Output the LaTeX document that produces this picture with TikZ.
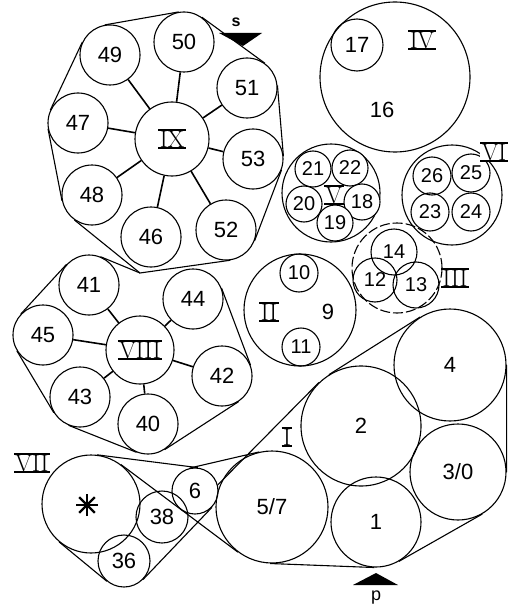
\documentclass[tikz,border=0pt]{standalone}
\usepackage{fontspec}
\newfontfamily\lblfont{Liberation Sans}
\usetikzlibrary{calc}

% roman group numbers with a bar above and below
\newcommand{\romlbl}[1]{{\rmfamily\fontsize{24}{24}\selectfont%
  \setbox0\hbox{\kern1.5pt#1\kern1.5pt}%
  \vbox{\hrule height1.6pt width\wd0\copy0\hrule height1.6pt width\wd0}}}

\begin{document}
\begin{tikzpicture}[x=1pt, y=-1pt, line width=1.1pt,
  bub/.style={circle, draw, inner sep=0pt, minimum size=#1pt, font=\lblfont\fontsize{22}{22}\selectfont},
  sbub/.style={bub=#1, font=\lblfont\fontsize{20}{20}\selectfont},
  lbl/.style={inner sep=0pt, font=\lblfont\fontsize{22}{22}\selectfont},
  rom/.style={inner sep=0pt},
  spoke/.style={line width=1.6pt},
  pointer/.style={fill=black, draw=none}]
\useasboundingbox (0,0) rectangle (507,607);

% Group IX
\node[bub=74] (ix) at (172,139) {\romlbl{IX}};
\node[bub=60] (c50) at (184,42) {50};
\node[bub=60] (c49) at (110,55) {49};
\node[bub=60] (c47) at (78,123) {47};
\node[bub=60] (c48) at (92,195) {48};
\node[bub=60] (c46) at (151,237) {46};
\node[bub=60] (c52) at (226,230) {52};
\node[bub=60] (c53) at (253,159) {53};
\node[bub=60] (c51) at (247,88) {51};
\foreach \n in {50,49,47,48,46,52,53,51}
  \draw[spoke] (ix) -- (c\n);
\coordinate (v1) at (140,273);
\draw (c49.100) -- (c50.100) (c50.54) -- (c51.54) (c51.5) -- (c53.5)
      (c53.339) -- (c52.339) (c52.278) -- (v1) -- (c48.235)
      (c48.191) -- (c47.191) (c47.155) -- (c49.155);

% Group VIII
\node[bub=68] (viii) at (140,350) {\romlbl{VIII}};
\node[bub=60] (c41) at (89,285) {41};
\node[bub=60] (c44) at (193,299) {44};
\node[bub=60] (c45) at (43,335) {45};
\node[bub=60] (c42) at (222,376) {42};
\node[bub=60] (c43) at (80,397) {43};
\node[bub=60] (c40) at (148,424) {40};
\foreach \n in {41,44,45,42,43,40}
  \draw[spoke] (viii) -- (c\n);
\draw (c41.68) -- (v1) (c44.21) -- (c42.21) (c42.303) -- (c40.303)
      (c40.248) -- (c43.248) (c43.211) -- (c45.211) (c45.137) -- (c41.137);

% Group IV
\node[bub=150] (iv) at (395,77) {};
\node[bub=52] (c17) at (357,45) {17};
\node[lbl] (l16) at (382,110) {16};
\node[rom] (liv) at (422,40) {\romlbl{IV}};

% Group V
\node[bub=98] (v) at (331,193) {};
\node[rom] (lv) at (334,195) {\romlbl{V}};
\node[sbub=36, fill=white] (c21) at (313,169) {21};
\node[sbub=36, fill=white] (c22) at (350,168) {22};
\node[sbub=36, fill=white] (c20) at (304,204) {20};
\node[sbub=36, fill=white] (c18) at (362,202) {18};
\node[sbub=36, fill=white] (c19) at (335,223) {19};

% Group VI
\node[bub=100] (vi) at (452,195) {};
\node[sbub=38] (c26) at (432,176) {26};
\node[sbub=38] (c25) at (471,173) {25};
\node[sbub=38] (c23) at (430,212) {23};
\node[sbub=38] (c24) at (471,212) {24};
\node[rom, fill=white] (lvi) at (494,152) {\romlbl{VI}};

% Group III
\node[bub=90, dash pattern=on 10pt off 3pt] (iii) at (397,268) {};
\node[sbub=46] (c14) at (394,252) {14};
\node[sbub=44] (c12) at (375,280) {12};
\node[sbub=46] (c13) at (416,285) {13};
\node[rom] (liii) at (455,278) {\romlbl{III}};

% Group II
\node[bub=112] (ii) at (300,310) {};
\node[sbub=38] (c10) at (299,273) {10};
\node[sbub=38] (c11) at (301,347) {11};
\node[rom] (lii) at (269,312) {\romlbl{II}};
\node[lbl] (l9) at (328,312) {9};

% Group I
\node[bub=112] (c4) at (450,365) {4};
\node[bub=120] (c2) at (361,426) {2};
\node[bub=96] (c30) at (458,472) {3/0};
\node[bub=90] (c1) at (376,522) {1};
\node[bub=112] (c57) at (272,507) {5/7};
\node[rom] (li) at (287,437) {\romlbl{I}};

% Group VII
\node[bub=98] (cst) at (91,504) {};
\node[bub=52] (c38) at (162,517) {38};
\node[bub=52] (c36) at (124,561) {36};
\node[bub=46] (c6) at (195,491) {6};
\node[rom] (lvii) at (32,463) {\romlbl{VII}};
\coordinate (ast) at (87,505);
\foreach \a in {0,45,90,135}
  \draw[line width=2.4pt] (ast) ++(\a:11) -- ++(\a+180:22);

% Outlines of I and VII
\draw (c4.122) -- (c2.122) (c2.134) -- (c6.15) (c6.103) -- (c57.103)
      (c57.268) -- (c1.268) (c1.300) -- (c30.300) (c30.0) -- (c4.0);
\draw (cst.83) -- (c6.83) (c6.316) -- (c36.316) (c36.230) -- (cst.230)
      (cst.53) -- (c57.233);

% Markers s and p
\draw[pointer] (219,33) -- (262,33) -- (243,46) -- cycle;
\node[lbl, font=\lblfont\bfseries\fontsize{16}{16}\selectfont] (ls) at (236,22) {s};
\draw[pointer] (353,585) -- (398,585) -- (376,573) -- cycle;
\node[lbl, font=\lblfont\fontsize{18}{18}\selectfont] (lp) at (376,598) {p};
\end{tikzpicture}
\end{document}
